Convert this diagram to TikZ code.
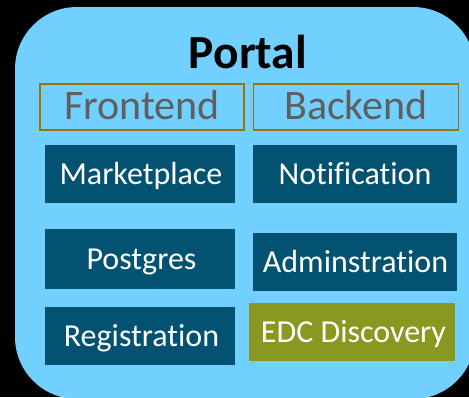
\documentclass[tikz,border=0pt]{standalone}
\usepackage{fontspec}
\setmainfont[Ligatures=CommonOff]{Carlito}
\definecolor{panelblue}{HTML}{71D0FE}
\definecolor{darkteal}{HTML}{045272}
\definecolor{olivebox}{HTML}{889820}
\definecolor{goldline}{HTML}{9C7400}
\definecolor{graytext}{HTML}{5F5F5F}
\newcommand{\nudged}[3]{\kern#1\raisebox{#2}[\height][\depth]{#3}\kern-#1}
\tikzset{
  x=1pt,y=-1pt,
  tabbox/.style={draw=goldline,line width=1.4pt,fill=none,text=graytext,inner sep=0pt,font=\fontsize{42}{44}\selectfont},
  svcbox/.style={fill=darkteal,text=white,inner sep=0pt,font=\fontsize{32}{34}\selectfont},
  greenbox/.style={fill=olivebox,text=white,inner sep=0pt,font=\fontsize{32}{34}\selectfont}
}
\begin{document}
\begin{tikzpicture}
\useasboundingbox (0,0) rectangle (469,397);
\fill[black] (0,0) rectangle (469,397);
\begin{scope}
\clip (0,0) rectangle (469,397);
\fill[panelblue,rounded corners=62pt] (15,7) rectangle (475,399);
\end{scope}
\node[font=\fontsize{47.5}{50}\selectfont\bfseries,text=black,inner sep=0pt] (title) at (248,52) {Portal};
\node[tabbox,minimum width=204pt,minimum height=46pt] (fe) at (142,107) {\nudged{0pt}{2pt}{Frontend}};
\node[tabbox,minimum width=205pt,minimum height=46pt] (be) at (356,107) {\nudged{0pt}{2pt}{Backend}};
\node[svcbox,minimum width=190pt,minimum height=58pt] (mp) at (140,174) {\nudged{1pt}{-1.5pt}{Marketplace}};
\node[svcbox,minimum width=204pt,minimum height=58pt] (no) at (355,174) {Notification};
\node[svcbox,minimum width=190pt,minimum height=60pt] (pg) at (140,259) {\nudged{1.5pt}{-2.5pt}{Postgres}};
\node[svcbox,minimum width=204pt,minimum height=58pt] (ad) at (355,262) {\nudged{0.5pt}{0pt}{Adminstration}};
\node[svcbox,minimum width=190pt,minimum height=58pt] (rg) at (140,336) {\nudged{1.5pt}{-2pt}{Registration}};
\node[greenbox,minimum width=206pt,minimum height=58pt] (ed) at (352,332) {\nudged{1.5pt}{-2pt}{EDC Discovery}};
\end{tikzpicture}
\end{document}
